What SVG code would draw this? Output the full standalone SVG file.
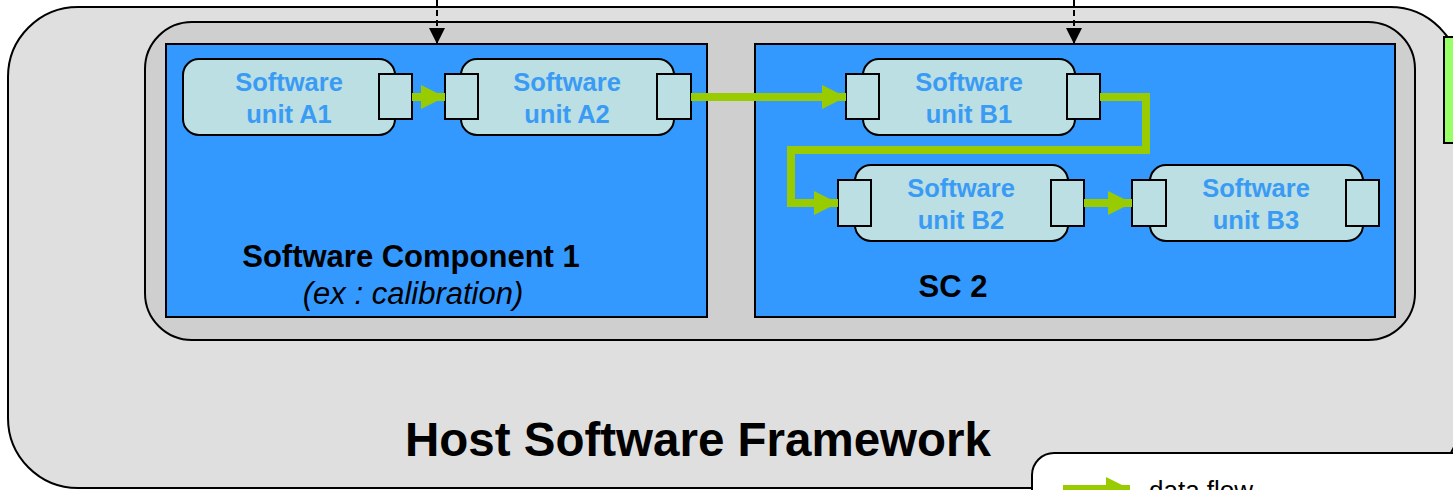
<svg xmlns="http://www.w3.org/2000/svg" width="1453" height="490" viewBox="0 0 1453 490">
<defs>
<style>
.frame{fill:#DFDFDF;stroke:#000;stroke-width:2}
.inner{fill:#CFCFCF;stroke:#000;stroke-width:2}
.comp{fill:#3399FF;stroke:#000;stroke-width:2}
.body{fill:#BBDFE2;stroke:#000;stroke-width:2}
.port{fill:#BBDFE2;stroke:#000;stroke-width:2}
.ut{font-family:"Liberation Sans",Arial,sans-serif;font-weight:bold;font-size:25.5px;fill:#3A9BF5;text-anchor:middle}
.ct{font-family:"Liberation Sans",Arial,sans-serif;font-weight:bold;font-size:31px;fill:#000;text-anchor:middle}
.ci{font-family:"Liberation Sans",Arial,sans-serif;font-style:italic;font-size:31px;fill:#000;text-anchor:middle}
.flow{fill:none;stroke:#99CC00;stroke-width:8}
.dash{fill:none;stroke:#000;stroke-width:2;stroke-dasharray:6 4}
</style>
<marker id="gh" markerUnits="userSpaceOnUse" markerWidth="24" markerHeight="24" refX="24" refY="12" orient="auto">
<path d="M0,0 L24,12 L0,24 Z" fill="#99CC00"/>
</marker>
<marker id="bh" markerUnits="userSpaceOnUse" markerWidth="16" markerHeight="16" refX="16" refY="8" orient="auto">
<path d="M0,0 L16,8 L0,16 Z" fill="#000"/>
</marker>
</defs>

<g id="host-framework">
<rect class="frame" x="8" y="7" width="1452" height="481" rx="70"/>
<text x="698" y="456" font-family="Liberation Sans, Arial, sans-serif" font-weight="bold" font-size="47.5" text-anchor="middle" fill="#000">Host Software Framework</text>
</g>

<g id="external-box">
<rect x="1444" y="37" width="30" height="106" fill="#99FF66" stroke="#000" stroke-width="2"/>
</g>

<g id="container">
<rect class="inner" x="145" y="22" width="1270" height="318" rx="47"/>
</g>

<g id="sc1">
<rect class="comp" x="166" y="44" width="541" height="273"/>
<text class="ct" x="411" y="267">Software Component 1</text>
<text class="ci" x="413" y="304">(ex : calibration)</text>
</g>

<g id="sc2">
<rect class="comp" x="755" y="44" width="640" height="273"/>
<text class="ct" x="953" y="297">SC 2</text>
</g>

<g id="unitA1">
<rect class="body" x="183" y="59" width="212" height="76" rx="16"/>
<rect class="port" x="379" y="74" width="33" height="45"/>
<text class="ut" x="289" y="91">Software</text>
<text class="ut" x="289" y="123">unit A1</text>
</g>

<g id="unitA2">
<rect class="body" x="461" y="59" width="213" height="76" rx="16"/>
<rect class="port" x="445" y="74" width="33" height="45"/>
<rect class="port" x="657" y="74" width="34" height="45"/>
<text class="ut" x="567" y="91">Software</text>
<text class="ut" x="567" y="123">unit A2</text>
</g>

<g id="unitB1">
<rect class="body" x="863" y="59" width="212" height="76" rx="16"/>
<rect class="port" x="846" y="74" width="33" height="45"/>
<rect class="port" x="1067" y="74" width="33" height="45"/>
<text class="ut" x="969" y="91">Software</text>
<text class="ut" x="969" y="123">unit B1</text>
</g>

<g id="unitB2">
<rect class="body" x="855" y="165" width="213" height="76" rx="16"/>
<rect class="port" x="838" y="180" width="33" height="46"/>
<rect class="port" x="1051" y="180" width="33" height="46"/>
<text class="ut" x="961" y="197">Software</text>
<text class="ut" x="961" y="229">unit B2</text>
</g>

<g id="unitB3">
<rect class="body" x="1150" y="165" width="213" height="76" rx="16"/>
<rect class="port" x="1132" y="180" width="34" height="46"/>
<rect class="port" x="1346" y="180" width="33" height="46"/>
<text class="ut" x="1256" y="197">Software</text>
<text class="ut" x="1256" y="229">unit B3</text>
</g>

<g id="connectors">
<path class="flow" d="M412,97 L445,97" marker-end="url(#gh)"/>
<path class="flow" d="M691,97 L846,97" marker-end="url(#gh)"/>
<path class="flow" d="M1100,97 L1146,97 L1146,150 L791,150 L791,203 L838,203" marker-end="url(#gh)"/>
<path class="flow" d="M1084,203 L1132,203" marker-end="url(#gh)"/>
<path class="dash" d="M437,0 L437,44" marker-end="url(#bh)"/>
<path class="dash" d="M1074,0 L1074,44" marker-end="url(#bh)"/>
</g>

<g id="legend">
<rect x="1032" y="453" width="500" height="100" rx="22" fill="#fff" stroke="#000" stroke-width="2"/>
<path class="flow" d="M1063,489 L1130,489" marker-end="url(#gh)"/>
<text x="1149" y="499" font-family="Liberation Sans, Arial, sans-serif" font-size="26" fill="#000">data flow</text>
</g>
</svg>
